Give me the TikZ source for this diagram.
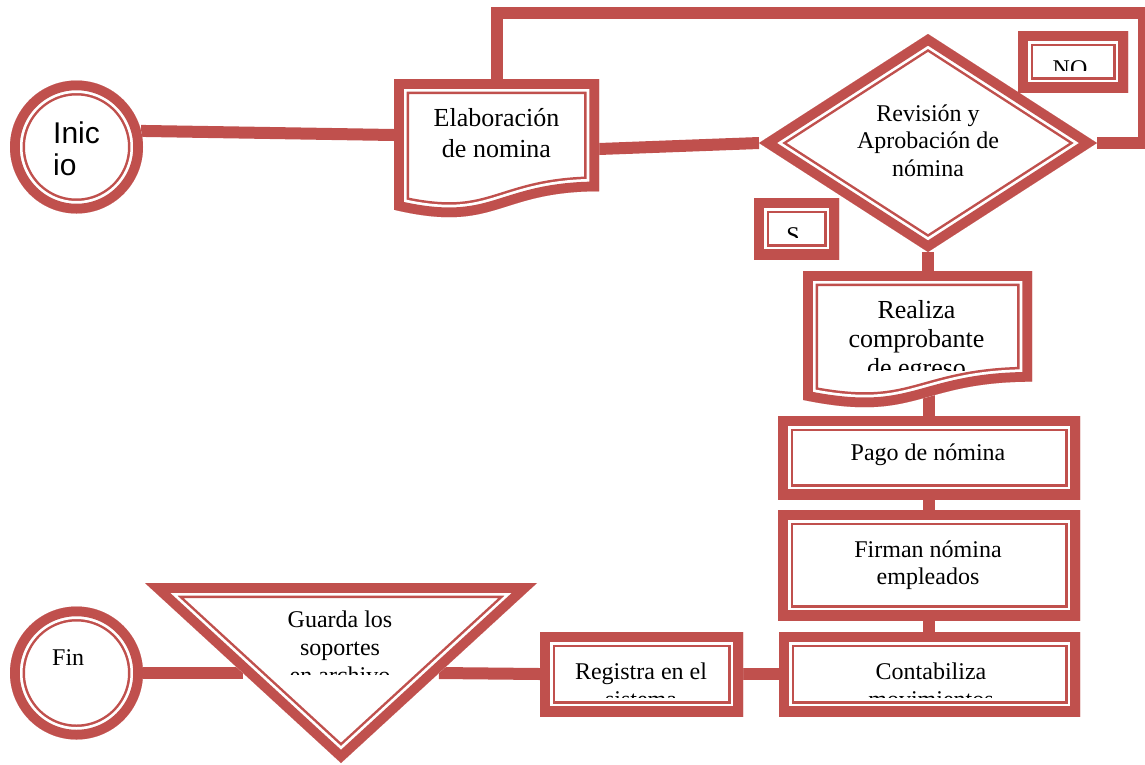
\documentclass[tikz,border=0pt]{standalone}
\usepackage{fontspec}
\setmainfont{Liberation Serif}
\newfontfamily\arialfont{Liberation Sans}
\usetikzlibrary{calc}
\definecolor{frame}{HTML}{C0504D}

\tikzset{
  area/.style 2 args={rectangle, draw=none, inner sep=0pt, outer sep=0pt,
    minimum width=#1, minimum height=#2},
  roundarea/.style={circle, draw=none, inner sep=0pt, outer sep=0pt, minimum size=#1},
  conn/.style={draw=frame, line width=12pt},
  txt/.style={align=center, inner sep=0pt, anchor=base,
    font=\fontsize{24}{27}\selectfont},
  bigtxt/.style={align=center, inner sep=0pt, anchor=base,
    font=\fontsize{26}{30}\selectfont},
}

% thick-thin frame drawn inside the given closed path
\newcommand\ttframe[1]{%
  \begin{scope}
    \clip #1;
    \fill[white] #1;
    \draw[frame, line width=30pt] #1;
    \draw[white, line width=25pt] #1;
    \draw[frame, line width=19.5pt] #1;
  \end{scope}}

% document symbol: top-left corner, width, height
\newcommand\docframe[4]{%
  \ttframe{(#1,#2) -- ({#1+#3},#2) -- ({#1+#3},{#2+0.802*#4})
    .. controls ({#1+0.5*#3},{#2+0.802*#4}) and ({#1+0.5*#3},{#2+1.107*#4})
    .. (#1,{#2+0.934*#4}) -- cycle}}

\begin{document}
\begin{tikzpicture}[x=1pt, y=-1pt]
\useasboundingbox (0,0) rectangle (1145,764);

% symbol areas
\node[roundarea=133pt] (inicio) at (76.5,147) {};
\node[area={205pt}{140pt}] (elab) at (496.5,149) {};
\node[area={338pt}{218pt}] (dec) at (928,143) {};
\node[area={110pt}{61pt}] (no) at (1073,61.5) {};
\node[area={85pt}{61pt}] (si) at (796.5,228.5) {};
\node[area={229pt}{138pt}] (real) at (917.5,340) {};
\node[area={302pt}{83pt}] (pago) at (929,457.5) {};
\node[area={302pt}{110pt}] (firm) at (929,565) {};
\node[area={301pt}{84pt}] (cont) at (929.5,674) {};
\node[area={203pt}{84pt}] (reg) at (641.5,674) {};
\node[area={392pt}{180pt}] (tri) at (341,673) {};
\node[roundarea=133pt] (fin) at (76.5,673) {};
\coordinate (looptop) at (1144,13);

% connectors
\draw[conn] (inicio.14) -- ($(elab.north west)!0.4!(elab.south west)$);
\draw[conn] (elab.east) -- (dec.west);
\draw[conn] (dec.east) -| (looptop) -| (elab.north);
\draw[conn] (dec.south) -- (dec.south |- real.center);
\draw[conn] (pago.north) -- (pago.north |- real.center);
\draw[conn] (pago.south) -- (firm.north);
\draw[conn] (firm.south) -- (firm.south |- cont.north);
\draw[conn] (cont.west) -- (reg.east);
\draw[conn] (reg.west) -- ($(tri.north east)!0.5!(tri.south)$);
\draw[conn] ($(tri.north west)!0.5!(tri.south)$) -- (fin.east);

% symbols
\ttframe{(inicio.center) circle[radius=66.5]}
\docframe{394}{79}{205}{140}
\ttframe{(dec.north) -- (dec.east) -- (dec.south) -- (dec.west) -- cycle}
\ttframe{(no.north west) rectangle (no.south east)}
\ttframe{(si.north west) rectangle (si.south east)}
\docframe{803}{271}{229}{138}
\ttframe{(pago.north west) rectangle (pago.south east)}
\ttframe{(firm.north west) rectangle (firm.south east)}
\ttframe{(cont.north west) rectangle (cont.south east)}
\ttframe{(reg.north west) rectangle (reg.south east)}
\ttframe{(tri.north west) -- (tri.north east) -- (tri.south) -- cycle}
\ttframe{(fin.center) circle[radius=66.5]}

% labels (a multi-line label is placed by the baseline of its last line)
\node[inner sep=0pt, anchor=base west, align=left,
  font=\arialfont\fontsize{30}{32}\selectfont] (iniciotxt) at (53,175) {Inic\\io};
\node[txt, anchor=base west] (fintxt) at (52,665) {Fin};
\node[bigtxt, font=\fontsize{26}{31}\selectfont] (elabtxt) at (496.5,157) {Elaboración\\de nomina};
\node[txt, font=\fontsize{24}{27.5}\selectfont] (dectxt) at (928,176) {Revisión y\\Aprobación de\\nómina};
\node[txt] (pagotxt) at (928,460) {Pago de nómina};
\node[txt] (firmtxt) at (928,584) {Firman nómina\\empleados};
\begin{scope}
  \clip (1018,31) rectangle (1128,70);
  \node[txt] (notxt) at (1070,76) {NO};
\end{scope}
\begin{scope}
  \clip (754,198) rectangle (839,237);
  \node[txt] (sitxt) at (793,243) {S};
\end{scope}
\begin{scope}
  \clip (803,271) rectangle (1032,370);
  \node[bigtxt, font=\fontsize{26}{29}\selectfont] (realtxt) at (916.5,376) {Realiza\\comprobante\\de egreso};
\end{scope}
\begin{scope}
  \clip (779,632) rectangle (1080,697);
  \node[txt, font=\fontsize{24}{28}\selectfont] (conttxt) at (931,707) {Contabiliza\\movimientos};
\end{scope}
\begin{scope}
  \clip (540,632) rectangle (743,697);
  \node[txt, font=\fontsize{24}{28}\selectfont] (regtxt) at (641,707) {Registra en el\\sistema};
\end{scope}
\begin{scope}
  \clip (145,583) rectangle (537,674);
  \node[txt, font=\fontsize{24}{28}\selectfont] (tritxt) at (340,683) {Guarda los\\soportes\\en archivo};
\end{scope}
\end{tikzpicture}
\end{document}
